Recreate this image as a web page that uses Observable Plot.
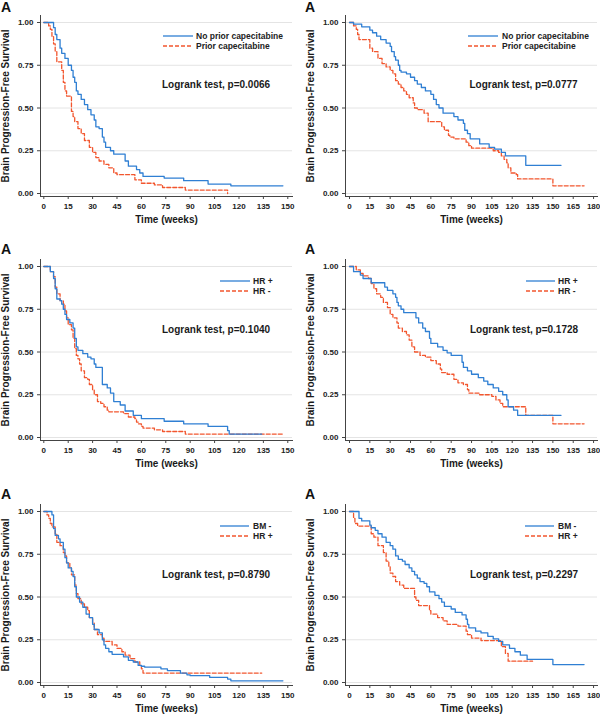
<!DOCTYPE html>
<html>
<head>
<meta charset="utf-8">
<script src="https://cdn.jsdelivr.net/npm/d3@7"></script>
<script src="https://cdn.jsdelivr.net/npm/@observablehq/plot@0.6"></script>
<style>
  html, body { margin: 0; padding: 0; background: #fff; }
  body { font-family: "Liberation Sans", Arial, Helvetica, sans-serif; }
  #wrap { position: relative; width: 600px; height: 714px; overflow: hidden; background: #fff; }
  .panel { position: absolute; width: 300px; height: 224px; }
  .panel svg { display: block; }
  .tag { position: absolute; font-size: 14px; line-height: 14px; font-weight: bold; color: #111; }
  .leg { position: absolute; font-size: 8.5px; line-height: 10px; font-weight: bold; color: #222; white-space: nowrap; }
  .leg svg { position: absolute; left: 0; top: 0; }
  .leg span { position: absolute; top: -5px; }
  .lr { position: absolute; font-size: 10px; line-height: 12px; font-weight: bold; color: #1a1a1a; white-space: nowrap; }
</style>
</head>
<body>
<div id="wrap"></div>
<script>
// ---------------- data ----------------
const yTicks = [0, 0.25, 0.5, 0.75, 1];
const xTicksShort = [0, 15, 30, 45, 60, 75, 90, 105, 120, 135, 150];
const xLabelsShort = ["0", "15", "30", "45", "60", "75", "90", "105", "120", "135", "150"];
const xTicksLong = [0, 15, 30, 45, 60, 75, 90, 105, 120, 135, 150, 165, 180];
const xLabelsLong = ["0", "15", "30", "45", "60", "75", "90", "105", "120", "135", "150", "165", "180"];
const xLabelsLongPanel4 = ["0", "15", "30", "45", "60", "75", "90", "105", "120", "135", "150", "135", "180"];

const yTitle = "Brain Progression-Free Survival";
const xTitle = "Time (weeks)";

const legendCape = ["No prior capecitabine", "Prior capecitabine"];
const legendHR = ["HR +", "HR -"];
const legendBM = ["BM -", "HR +"];
const pValues = ["0.0066", "0.0777", "0.1040", "0.1728", "0.8790", "0.2297"];

// [time (weeks), survival]
const p1NoPrior = [[0,1],[6,0.97],[7,0.93],[8,0.90],[10,0.85],[11,0.82],[13,0.79],[15,0.75],[17,0.72],[18,0.68],[19,0.65],[20,0.60],[21,0.58],[23,0.55],[25,0.52],[27,0.49],[29,0.46],[31,0.43],[32,0.39],[34,0.38],[36,0.33],[37,0.30],[38,0.27],[41,0.25],[43,0.23],[50,0.19],[52,0.16],[57,0.14],[59,0.12],[61,0.10],[74,0.09],[86,0.075],[101,0.055],[115,0.045],[147,0.045]];
const p1Prior = [[0,1],[3,0.98],[4,0.96],[5,0.92],[6,0.875],[7,0.83],[8,0.77],[11,0.72],[12,0.65],[13,0.60],[14,0.57],[17,0.48],[18,0.45],[19,0.42],[21,0.38],[23,0.35],[25,0.31],[28,0.27],[30,0.24],[32,0.21],[34,0.19],[37,0.17],[40,0.15],[43,0.12],[45,0.11],[56,0.08],[60,0.06],[68,0.05],[73,0.035],[87,0.02],[113,0]];

const p2NoPrior = [[0,1],[3,0.99],[9,0.975],[15,0.955],[17,0.94],[20,0.92],[23,0.90],[27,0.88],[30,0.86],[31,0.83],[33,0.80],[34,0.78],[36,0.75],[37,0.72],[38,0.71],[42,0.70],[45,0.68],[48,0.66],[50,0.64],[53,0.62],[56,0.60],[60,0.58],[62,0.55],[64,0.52],[66,0.50],[69,0.47],[77,0.45],[80,0.43],[84,0.41],[85,0.37],[87,0.35],[89,0.32],[96,0.29],[103,0.27],[107,0.26],[112,0.24],[115,0.22],[130,0.165],[156,0.165]];
const p2Prior = [[0,1],[3,0.98],[5,0.96],[6,0.93],[7,0.90],[15,0.85],[17,0.83],[21,0.79],[24,0.76],[27,0.74],[30,0.72],[32,0.70],[34,0.66],[36,0.64],[38,0.62],[40,0.60],[42,0.58],[44,0.56],[47,0.53],[48,0.50],[50,0.49],[55,0.47],[58,0.42],[68,0.39],[70,0.37],[73,0.34],[74,0.33],[77,0.32],[86,0.30],[88,0.28],[90,0.265],[106,0.25],[110,0.24],[112,0.22],[114,0.20],[116,0.18],[117,0.15],[119,0.12],[123,0.11],[124,0.085],[150,0.045],[173,0.045]];

const p3HRpos = [[0,1],[4,0.97],[6,0.93],[7,0.87],[8,0.81],[10,0.80],[11,0.78],[12,0.75],[13,0.72],[14,0.69],[16,0.67],[18,0.64],[19,0.58],[20,0.53],[21,0.51],[24,0.49],[27,0.47],[29,0.46],[31,0.43],[32,0.41],[36,0.31],[39,0.29],[41,0.26],[43,0.21],[47,0.19],[50,0.155],[55,0.13],[60,0.11],[74,0.095],[86,0.08],[101,0.065],[113,0.04],[114,0.02],[134,0.02]];
const p3HRneg = [[0,1],[4,0.97],[6,0.94],[7,0.88],[8,0.84],[10,0.80],[12,0.78],[13,0.74],[14,0.70],[15,0.66],[17,0.63],[18,0.58],[19,0.52],[20,0.48],[21,0.46],[22,0.43],[23,0.39],[25,0.35],[27,0.34],[28,0.31],[30,0.28],[31,0.25],[33,0.21],[35,0.20],[37,0.18],[39,0.16],[40,0.15],[49,0.14],[52,0.12],[56,0.11],[57,0.09],[58,0.08],[60,0.065],[61,0.055],[68,0.045],[73,0.035],[87,0.02],[147,0.02]];

const p4HRpos = [[0,1],[3,0.97],[8,0.95],[10,0.93],[16,0.905],[26,0.88],[28,0.86],[32,0.84],[34,0.82],[35,0.79],[36,0.77],[38,0.75],[40,0.73],[49,0.70],[51,0.67],[54,0.64],[56,0.62],[59,0.58],[60,0.55],[65,0.53],[69,0.51],[72,0.495],[75,0.48],[83,0.44],[84,0.41],[87,0.39],[90,0.37],[95,0.35],[99,0.33],[102,0.31],[106,0.29],[110,0.27],[113,0.25],[116,0.22],[117,0.18],[121,0.16],[124,0.13],[156,0.13]];
const p4HRneg = [[0,1],[5,0.98],[8,0.96],[10,0.945],[14,0.93],[16,0.90],[18,0.87],[20,0.84],[23,0.82],[25,0.79],[28,0.76],[30,0.72],[32,0.70],[35,0.67],[36,0.64],[39,0.62],[42,0.60],[44,0.57],[46,0.53],[48,0.50],[52,0.48],[56,0.47],[60,0.45],[64,0.43],[67,0.40],[68,0.38],[72,0.37],[77,0.34],[80,0.32],[84,0.31],[87,0.28],[88,0.26],[96,0.25],[105,0.24],[108,0.22],[111,0.20],[113,0.18],[130,0.13],[150,0.08],[173,0.08]];

const p5BMneg = [[0,1],[5,0.98],[6,0.90],[7,0.86],[9,0.84],[10,0.82],[12,0.78],[13,0.73],[14,0.70],[15,0.67],[17,0.65],[18,0.62],[19,0.56],[20,0.50],[22,0.47],[24,0.44],[26,0.40],[28,0.38],[30,0.34],[31,0.31],[34,0.29],[36,0.25],[37,0.22],[38,0.20],[40,0.18],[42,0.165],[49,0.15],[52,0.13],[55,0.12],[58,0.10],[60,0.095],[62,0.09],[72,0.08],[76,0.07],[84,0.055],[88,0.045],[90,0.04],[102,0.03],[113,0.02],[115,0.01],[147,0.01]];
const p5HRpos = [[0,1],[2,0.98],[3,0.96],[4,0.93],[5,0.91],[7,0.87],[8,0.82],[10,0.80],[12,0.76],[13,0.74],[14,0.70],[16,0.67],[17,0.63],[19,0.57],[20,0.52],[21,0.49],[23,0.46],[25,0.44],[27,0.42],[28,0.38],[30,0.35],[31,0.31],[33,0.28],[36,0.26],[37,0.24],[42,0.22],[45,0.20],[48,0.18],[50,0.16],[53,0.14],[56,0.12],[59,0.10],[60,0.08],[61,0.055],[134,0.055]];

const p6BMneg = [[0,1],[7,0.96],[9,0.945],[15,0.92],[16,0.905],[19,0.89],[21,0.87],[24,0.85],[27,0.82],[30,0.80],[32,0.78],[34,0.74],[36,0.72],[39,0.71],[41,0.69],[44,0.67],[46,0.65],[48,0.63],[50,0.61],[52,0.59],[55,0.58],[57,0.56],[59,0.53],[63,0.51],[66,0.49],[68,0.47],[70,0.445],[75,0.43],[78,0.41],[83,0.395],[86,0.37],[87,0.34],[88,0.32],[93,0.30],[97,0.29],[102,0.27],[106,0.255],[110,0.24],[113,0.22],[118,0.20],[122,0.18],[126,0.16],[131,0.135],[150,0.105],[173,0.105]];
const p6HRpos = [[0,1],[3,0.96],[4,0.93],[6,0.915],[16,0.87],[18,0.85],[21,0.80],[25,0.76],[27,0.71],[29,0.68],[30,0.64],[32,0.62],[34,0.59],[37,0.57],[40,0.55],[48,0.50],[49,0.48],[51,0.45],[59,0.42],[60,0.40],[65,0.38],[69,0.36],[72,0.34],[80,0.33],[86,0.30],[87,0.28],[90,0.26],[97,0.245],[112,0.21],[115,0.17],[117,0.125],[135,0.125]];

// ---------------- styling / layout ----------------
const BLUE = "#2f7fd3";
const ORANGE = "#f2562e";
const AXIS = "#444";
const FONT = "'Liberation Sans', Arial, Helvetica, sans-serif";

const panels = [
  {col: 0, row: 0, a: p1NoPrior, b: p1Prior, legend: legendCape, p: pValues[0], ticks: xTicksShort, labels: xLabelsShort},
  {col: 1, row: 0, a: p2NoPrior, b: p2Prior, legend: legendCape, p: pValues[1], ticks: xTicksLong, labels: xLabelsLong},
  {col: 0, row: 1, a: p3HRpos, b: p3HRneg, legend: legendHR, p: pValues[2], ticks: xTicksShort, labels: xLabelsShort},
  {col: 1, row: 1, a: p4HRpos, b: p4HRneg, legend: legendHR, p: pValues[3], ticks: xTicksLong, labels: xLabelsLongPanel4},
  {col: 0, row: 2, a: p5BMneg, b: p5HRpos, legend: legendBM, p: pValues[4], ticks: xTicksShort, labels: xLabelsShort},
  {col: 1, row: 2, a: p6BMneg, b: p6HRpos, legend: legendBM, p: pValues[5], ticks: xTicksLong, labels: xLabelsLong}
];

const rowTop = [0, 244, 489];
const colLayout = [
  {left: 0, ml: 40, mr: 8, xDomain: [-2.03, 152.9]},
  {left: 300, ml: 45, mr: 3, xDomain: [-2.95, 182.9]}
];
// legend placement per panel (local px): swatch x0, x1, text x, first row y
const legendPos = [
  {x0: 163, x1: 193, tx: 196, y: 36},
  {x0: 168, x1: 198, tx: 202, y: 36},
  {x0: 220, x1: 250, tx: 253, y: 36.5},
  {x0: 226, x1: 255, tx: 258, y: 36.5},
  {x0: 220, x1: 249, tx: 253, y: 37},
  {x0: 225, x1: 254, tx: 258, y: 37}
];
const lrPos = [
  {x: 162, y: 84.5}, {x: 169.5, y: 84.5},
  {x: 162, y: 85.5}, {x: 170, y: 85.5},
  {x: 162, y: 86}, {x: 170, y: 86}
];

const wrap = document.getElementById("wrap");

panels.forEach((cfg, i) => {
  const lay = colLayout[cfg.col];
  const top = rowTop[cfg.row];
  const ticks = cfg.ticks, labels = cfg.labels;

  const chart = Plot.plot({
    width: 300,
    height: 224,
    marginLeft: lay.ml,
    marginRight: lay.mr,
    marginTop: 15,
    marginBottom: 28,
    style: {fontFamily: FONT, fontSize: "8px", fontWeight: "bold", color: AXIS, background: "transparent", overflow: "visible"},
    x: {domain: lay.xDomain},
    y: {domain: [-0.0175, 1.041]},
    marks: [
      Plot.gridY(yTicks, {stroke: "#e4e4e4", strokeOpacity: 1, strokeWidth: 1}),
      Plot.frame({anchor: "left", stroke: AXIS, strokeWidth: 1}),
      Plot.frame({anchor: "bottom", stroke: AXIS, strokeWidth: 1}),
      Plot.axisY(yTicks, {tickFormat: d3.format(".2f"), tickSize: 3, tickPadding: 4, label: null, fill: "#222", fontWeight: "bold", fontSize: 8}),
      Plot.axisX(ticks, {tickFormat: d => labels[ticks.indexOf(d)], tickSize: 3, tickPadding: 4, label: null, fill: "#222", fontWeight: "bold", fontSize: 8}),
      Plot.text([yTitle], {frameAnchor: "left", textAnchor: "middle", lineAnchor: "middle", rotate: -90, dx: -35, fontSize: 10, fontWeight: "bold", fill: "#1a1a1a"}),
      Plot.text([xTitle], {frameAnchor: "bottom", textAnchor: "middle", lineAnchor: "middle", dy: 23, fontSize: 10, fontWeight: "bold", fill: "#1a1a1a"}),
      Plot.line(cfg.b, {x: d => d[0], y: d => d[1], curve: "step-after", stroke: ORANGE, strokeWidth: 1.3, strokeDasharray: "4,2"}),
      Plot.line(cfg.a, {x: d => d[0], y: d => d[1], curve: "step-after", stroke: BLUE, strokeWidth: 1.3})
    ]
  });

  const div = document.createElement("div");
  div.className = "panel";
  div.style.left = lay.left + "px";
  div.style.top = top + "px";
  div.appendChild(chart);
  wrap.appendChild(div);

  // panel tag "A"
  const tag = document.createElement("div");
  tag.className = "tag";
  tag.textContent = "A";
  tag.style.left = (lay.left + (cfg.col ? 5 : 1)) + "px";
  tag.style.top = Math.max(0, top - 2) + "px";
  wrap.appendChild(tag);

  // legend
  const lp = legendPos[i];
  cfg.legend.forEach((name, k) => {
    const item = document.createElement("div");
    item.className = "leg";
    const y = top + lp.y + k * 10;
    item.style.left = (lay.left + lp.x0) + "px";
    item.style.top = y + "px";
    const w = lp.x1 - lp.x0;
    const dash = k === 1 ? ' stroke-dasharray="4,2"' : '';
    item.innerHTML = `<svg width="${w}" height="2" style="top:-1px"><line x1="0" x2="${w}" y1="1" y2="1" stroke="${k ? ORANGE : BLUE}" stroke-width="1.3"${dash}/></svg><span style="left:${lp.tx - lp.x0}px"></span>`;
    item.querySelector("span").textContent = name;
    wrap.appendChild(item);
  });

  // logrank annotation
  const lr = document.createElement("div");
  lr.className = "lr";
  lr.textContent = "Logrank test, p=" + cfg.p;
  lr.style.left = (lay.left + lrPos[i].x) + "px";
  lr.style.top = (top + lrPos[i].y - 6) + "px";
  wrap.appendChild(lr);
});
</script>
</body>
</html>
